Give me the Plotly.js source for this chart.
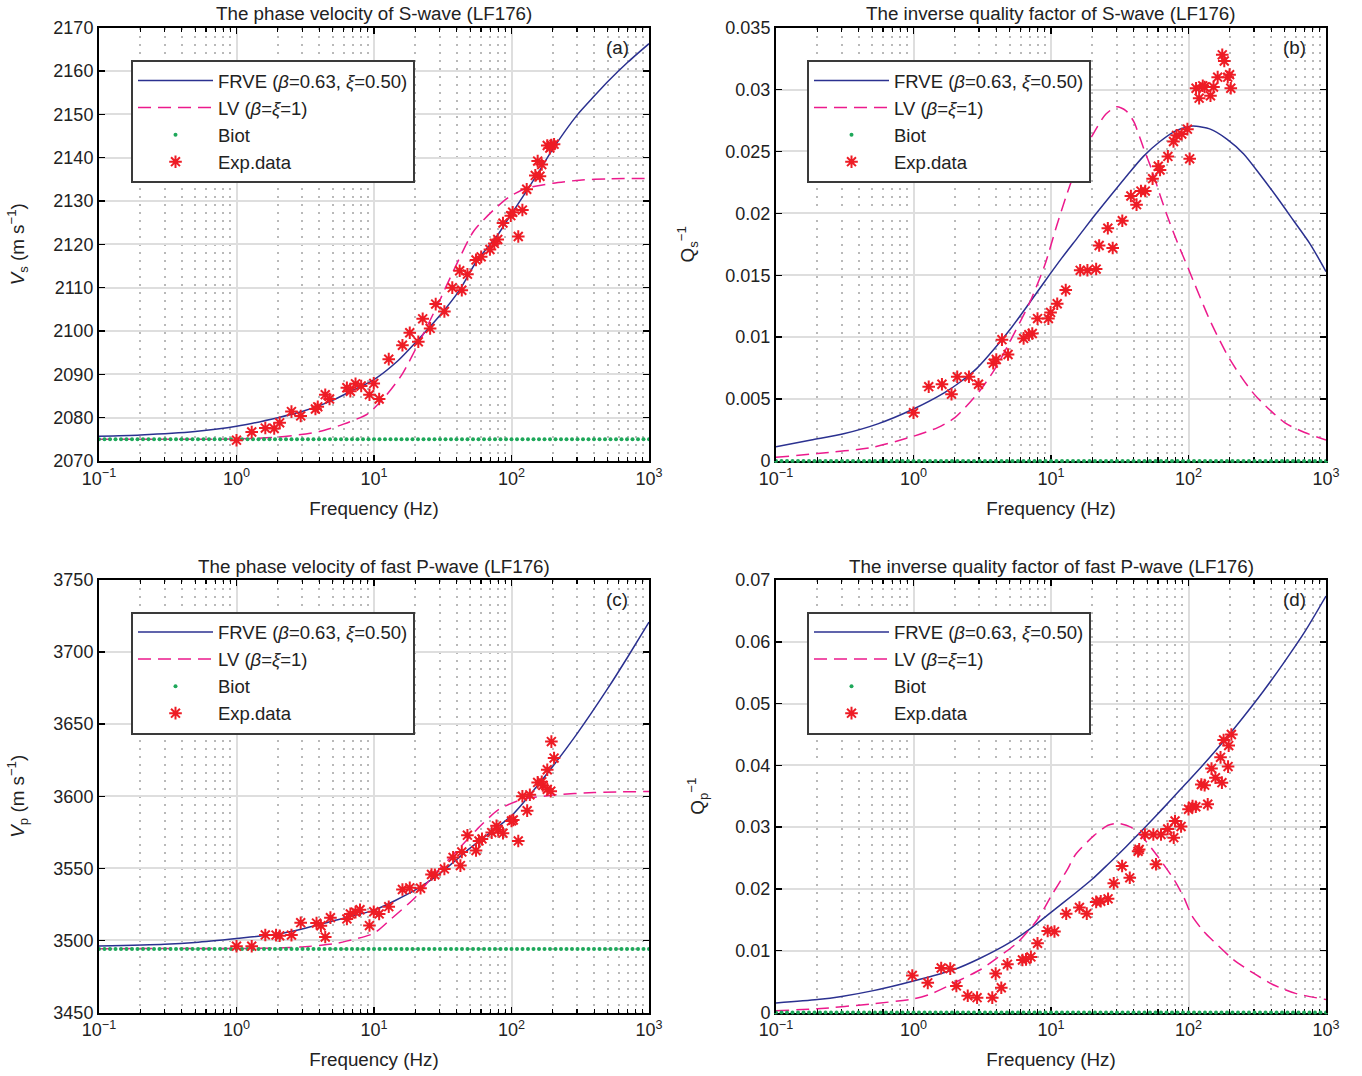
<!DOCTYPE html>
<html><head><meta charset="utf-8">
<script src="https://cdn.plot.ly/plotly-3.0.1.min.js"></script>
<style>html,body{margin:0;padding:0;background:#fff}#chart{width:1362px;height:1076px}</style>
</head><body><div id="chart"></div>
<script>
// ---------- axis ticks ----------
const xTickVals = [0.1, 1, 10, 100, 1000];
const xTickText = ['10<sup>−1</sup>', '10<sup>0</sup>', '10<sup>1</sup>', '10<sup>2</sup>', '10<sup>3</sup>'];
const xMinorVals = [0.2,0.3,0.4,0.5,0.6,0.7,0.8,0.9,2,3,4,5,6,7,8,9,20,30,40,50,60,70,80,90,200,300,400,500,600,700,800,900];
const vsTicks = [2070,2080,2090,2100,2110,2120,2130,2140,2150,2160,2170];
const qsTicks = [0,0.005,0.01,0.015,0.02,0.025,0.03,0.035];
const qsTickText = ['0','0.005','0.01','0.015','0.02','0.025','0.03','0.035'];
const vpTicks = [3450,3500,3550,3600,3650,3700,3750];
const qpTicks = [0,0.01,0.02,0.03,0.04,0.05,0.06,0.07];
const qpTickText = ['0','0.01','0.02','0.03','0.04','0.05','0.06','0.07'];

// ---------- Biot frequency grid (dots) ----------
const biotF = [0.1,0.10965,0.12023,0.13183,0.14454,0.15849,0.17378,0.19055,0.20893,0.22909,0.25119,0.27542,0.302,0.33113,0.36308,0.39811,0.43652,0.47863,0.52481,0.57544,0.63096,0.69183,0.75858,0.83176,0.91201,
1,1.0965,1.2023,1.3183,1.4454,1.5849,1.7378,1.9055,2.0893,2.2909,2.5119,2.7542,3.02,3.3113,3.6308,3.9811,4.3652,4.7863,5.2481,5.7544,6.3096,6.9183,7.5858,8.3176,9.1201,
10,10.965,12.023,13.183,14.454,15.849,17.378,19.055,20.893,22.909,25.119,27.542,30.2,33.113,36.308,39.811,43.652,47.863,52.481,57.544,63.096,69.183,75.858,83.176,91.201,
100,109.65,120.23,131.83,144.54,158.49,173.78,190.55,208.93,229.09,251.19,275.42,302,331.13,363.08,398.11,436.52,478.63,524.81,575.44,630.96,691.83,758.58,831.76,912.01,1000];
const vsBiotLevel = 2075;
const qsBiotLevel = 0;
const vpBiotLevel = 3494;
const qpBiotLevel = 0;

// ---------- (a) S-wave phase velocity ----------
const vsFrveF = [0.1,0.2,0.5,1,2,3,5,7,10,15,20,30,42,56,78,97,121,160,200,300,400,500,700,1000];
const vsFrve  = [2075.7,2076.0,2076.8,2078.0,2080.0,2081.4,2084.0,2086.3,2088.8,2093.2,2097.3,2103.5,2109.5,2116.2,2121.8,2126.4,2131.0,2137.0,2142.0,2149.8,2154.2,2157.5,2162.0,2166.3];
const vsLvF = [0.1,0.3,1,2,4,6,9,12,16,22,29,38,53,74,97,128,200,313,500,1000];
const vsLv  = [2075.0,2075.0,2075.1,2075.5,2076.8,2078.5,2080.9,2084.8,2090.0,2098.3,2106.0,2114.0,2123.0,2127.9,2131.0,2132.9,2134.1,2134.8,2135.1,2135.2];
const vsExpF = [1.0,1.29,1.62,1.88,2.06,2.51,2.93,3.75,3.9,4.42,4.75,6.35,6.73,7.34,8.07,9.27,9.96,10.9,12.8,16.1,18.2,21.0,22.6,25.6,28.1,32.5,37.1,43.5,42,47.8,55.2,60.2,69.7,75,79.4,86.7,98.8,102,120,112,129,149,161,155,166,182,195,204,190];
const vsExp  = [2074.8,2076.7,2077.6,2077.5,2078.8,2081.4,2080.4,2082.0,2082.5,2085.3,2084.3,2086.9,2086.1,2087.8,2087.3,2085.3,2087.9,2084.3,2093.5,2096.7,2099.6,2097.5,2102.8,2100.6,2106.2,2104.5,2110.0,2109.4,2113.9,2113.1,2116.4,2117.1,2118.8,2120.2,2121.1,2124.9,2126.6,2127.4,2127.9,2121.8,2132.7,2135.9,2135.7,2139.2,2138.4,2142.8,2142.9,2143.1,2142.2];

// ---------- (b) S-wave inverse quality factor ----------
const qsFrveF = [0.1,0.18,0.31,0.55,1,1.67,2.2,2.9,3.9,5.1,6.8,9,12,15.5,20,27,36,47,62,82,100,108,144,190,252,333,440,582,769,1000];
const qsFrve  = [0.00115,0.0017,0.0022,0.003,0.0042,0.0055,0.0064,0.0075,0.0091,0.0107,0.0126,0.0145,0.0164,0.018,0.0196,0.0214,0.0231,0.0246,0.0258,0.0267,0.027,0.02705,0.0268,0.026,0.0248,0.0231,0.0213,0.0194,0.0175,0.0153];
const qsLvF = [0.1,0.2,0.5,1,1.5,2,3,4,5,7,9,11,13,15,20,25,30,35,40,47,55,62,70,82,100,144,200,300,500,700,1000];
const qsLv  = [0.0003,0.0006,0.0011,0.002,0.0027,0.0035,0.0056,0.0076,0.0096,0.0128,0.0158,0.0190,0.0215,0.0234,0.0263,0.028,0.0286,0.0283,0.0274,0.0253,0.0233,0.0215,0.0198,0.0178,0.0155,0.0113,0.0082,0.0054,0.0031,0.0023,0.0017];
const qsExpF = [1.0,1.29,1.61,1.89,2.08,2.53,2.97,3.80,4.0,4.40,4.87,6.32,6.90,7.31,7.98,9.57,9.93,11.1,12.8,16.3,18.4,21.3,22.4,25.9,28.1,33.0,38.1,41.9,45.1,48.5,54.8,60.3,62.1,70.8,77.8,81.9,89.3,98.2,102,113.5,119.5,131,144.5,152,163,176,182,193,199,203,127];
const qsExp  = [0.0039,0.0060,0.0062,0.0054,0.0068,0.0068,0.0062,0.0079,0.0082,0.0098,0.0086,0.0099,0.0102,0.0103,0.0115,0.0115,0.0120,0.0127,0.0138,0.0154,0.0154,0.0155,0.0174,0.0188,0.0172,0.0194,0.0214,0.0207,0.0218,0.0218,0.0228,0.0238,0.0235,0.0246,0.0258,0.0263,0.0264,0.0268,0.0244,0.0301,0.0293,0.0302,0.0295,0.0302,0.0310,0.0328,0.0323,0.0310,0.0312,0.0301,0.0303];

// ---------- (c) fast P-wave phase velocity ----------
const vpFrveF = [0.1,0.3,0.5,1,2,3,5,10,20,30,50,100,150,200,300,500,700,1000];
const vpFrve  = [3496.2,3497.4,3498.6,3501.3,3504.4,3507.9,3513.5,3521.0,3535.0,3546.3,3564.0,3586.5,3605.9,3620.8,3643.4,3674.6,3696.6,3720.8];
const vpLvF = [0.1,1,2,3,5,6.3,10,13,20,27,40,56,80,115,200,400,1000];
const vpLv  = [3494.3,3494.4,3494.7,3495.5,3497.5,3499.5,3505.0,3514.0,3530.0,3545.0,3562.0,3577.0,3590.5,3597.3,3600.8,3602.6,3603.3];
const vpExpF = [1.0,1.29,1.62,1.94,2.06,2.51,2.93,3.82,4.11,4.42,4.82,6.35,6.73,7.34,7.91,9.27,9.96,10.9,12.8,16.1,18.2,21.8,26.2,27.7,32.5,37.6,42.5,43.5,47.8,55.2,58.0,61.0,71.8,77.8,80.0,86.7,100,103,112,120,130,136,155,169,182,193,182,195,204,166];
const vpExp  = [3496.0,3496.0,3503.8,3503.7,3503.2,3503.7,3512.3,3512.0,3510.2,3502.4,3515.8,3514.9,3518.4,3519.6,3521.3,3510.3,3519.9,3518.4,3523.4,3535.3,3536.5,3536.2,3545.7,3545.5,3549.6,3557.6,3551.9,3561.4,3573.0,3562.4,3569.0,3570.4,3574.8,3579.5,3576.7,3574.4,3582.9,3583.5,3569.0,3600.0,3590.0,3601.0,3609.6,3607.5,3604.8,3603.5,3618.4,3637.9,3626.5,3610.0];

// ---------- (d) fast P-wave inverse quality factor ----------
const qpFrveF = [0.1,0.2,0.3,0.5,1,2,3,5,7,10,15,20,26,35,47,65,90,128,180,250,350,500,700,1000];
const qpFrve  = [0.00155,0.0021,0.0026,0.0035,0.0051,0.0070,0.0087,0.0113,0.0135,0.0162,0.0193,0.0216,0.0240,0.0268,0.0297,0.0330,0.0364,0.0401,0.0439,0.0478,0.0520,0.0568,0.0616,0.0674];
const qpLvF = [0.1,0.2,0.5,1,1.34,2.2,3.1,4.1,5.7,8,10,13.2,15,20.7,26,31,38,45,60,79,93,105,128,151,211,295,413,600,1000];
const qpLv  = [0.0003,0.0006,0.0014,0.0022,0.003,0.0053,0.007,0.0089,0.0113,0.0151,0.0188,0.0232,0.0255,0.0287,0.0303,0.0306,0.030,0.0287,0.0252,0.0214,0.0185,0.0158,0.0132,0.0116,0.0086,0.0064,0.0045,0.0031,0.0021];
const qpExpF = [0.98,1.27,1.59,1.85,2.05,2.48,2.90,3.74,3.96,4.35,4.82,6.2,6.58,7.14,7.98,9.46,10.6,12.9,16.1,18.2,21.3,23,26,28.6,32.9,37.4,43,43.8,48.2,55.5,58,63.1,70.6,79.8,78.1,88.3,100,107,113,138,124,131,147,157,175,194,171,180,196,205];
const qpExp  = [0.0060,0.0048,0.0072,0.0071,0.0043,0.0027,0.0024,0.0024,0.0063,0.0040,0.0078,0.0085,0.0086,0.0090,0.0112,0.0132,0.0131,0.0160,0.0170,0.0160,0.0179,0.0180,0.0184,0.0209,0.0237,0.0218,0.0261,0.0264,0.0288,0.0288,0.0240,0.0288,0.0297,0.0310,0.0283,0.0301,0.0329,0.0334,0.0333,0.0337,0.0369,0.0368,0.0395,0.0380,0.0372,0.0398,0.0413,0.0441,0.0432,0.0450];

// ---------- styles ----------
const FONT = 'Liberation Sans, Arial, Helvetica, sans-serif';
const C_FRVE = '#2b3190', C_LV = '#ec1a8c', C_BIOT = '#1ea85a', C_EXP = '#ee1c25';
const nameFRVE = 'FRVE (<i>β</i>=0.63, <i>ξ</i>=0.50)';
const nameLV = 'LV (<i>β</i>=<i>ξ</i>=1)';

function panel(idx, frveF, frve, lvF, lv, biotLevel, expF, exp) {
  const s = idx === 1 ? '' : String(idx);
  const xa = 'x' + s, ya = 'y' + s, lg = 'legend' + s;
  return [
    {x: frveF, y: frve, xaxis: xa, yaxis: ya, legend: lg, name: nameFRVE, mode: 'lines', line: {color: C_FRVE, width: 1.5, shape: 'spline', smoothing: 0.7}},
    {x: lvF, y: lv, xaxis: xa, yaxis: ya, legend: lg, name: nameLV, mode: 'lines', line: {color: C_LV, width: 1.5, dash: '13px,7px', shape: 'spline', smoothing: 0.7}},
    {x: biotF, y: biotF.map(() => biotLevel), xaxis: xa, yaxis: ya, legend: lg, name: 'Biot', mode: 'markers', cliponaxis: false, marker: {color: C_BIOT, size: 4, symbol: 'circle'}},
    {x: expF, y: exp, xaxis: xa, yaxis: ya, legend: lg, name: 'Exp.data', mode: 'markers', cliponaxis: false, marker: {symbol: 'asterisk-open', size: 10.5, color: C_EXP, line: {color: C_EXP, width: 2}}}
  ];
}

const data = [].concat(
  panel(1, vsFrveF, vsFrve, vsLvF, vsLv, vsBiotLevel, vsExpF, vsExp),
  panel(2, qsFrveF, qsFrve, qsLvF, qsLv, qsBiotLevel, qsExpF, qsExp),
  panel(3, vpFrveF, vpFrve, vpLvF, vpLv, vpBiotLevel, vpExpF, vpExp),
  panel(4, qpFrveF, qpFrve, qpLvF, qpLv, qpBiotLevel, qpExpF, qpExp)
);

const W = 1362, H = 1076;
const leftX = [99 / W, 649 / W], rightX = [776 / W, 1326 / W];
const topY = [1 - 461 / H, 1 - 27.6 / H], botY = [1 - 1012.5 / H, 1 - 580 / H];

function xAxis(domain, anchor, below) {
  return {
    domain: domain, anchor: anchor, type: 'log', range: [-1, 3],
    tickmode: 'array', tickvals: xTickVals, ticktext: xTickText,
    ticks: 'inside', ticklen: 6, tickwidth: 1.5, tickcolor: '#000',
    showline: true, linecolor: '#000', linewidth: 2, mirror: 'allticks',
    layer: below ? 'below traces' : 'above traces',
    showgrid: true, gridcolor: '#dedede', gridwidth: 2, zeroline: false,
    tickfont: {size: 18, color: '#222', family: FONT},
    minor: {tickmode: 'array', tickvals: xMinorVals, ticks: 'inside', ticklen: 4, tickwidth: 1.2, tickcolor: '#000',
            showgrid: true, gridcolor: '#b9b9b9', griddash: '2px,6px', gridwidth: 2},
    title: {text: 'Frequency (Hz)', font: {size: 18.8, color: '#222', family: FONT}, standoff: 14}
  };
}
function yAxis(domain, anchor, range, tv, tt, title, standoff) {
  const ax = {
    domain: domain, anchor: anchor, range: range,
    tickmode: 'array', tickvals: tv,
    ticks: 'inside', ticklen: 6, tickwidth: 1.5, tickcolor: '#000',
    showline: true, linecolor: '#000', linewidth: 2, mirror: 'allticks',
    showgrid: true, gridcolor: '#dedede', gridwidth: 2, zeroline: false,
    tickfont: {size: 18, color: '#222', family: FONT},
    title: {text: title, font: {size: 18.8, color: '#222', family: FONT}, standoff: standoff}
  };
  if (tt) ax.ticktext = tt;
  return ax;
}
function legendAt(px, py) {
  return {x: px / W, y: 1 - py / H, xanchor: 'left', yanchor: 'top', bgcolor: '#fff',
          bordercolor: '#3a3a3a', borderwidth: 2, font: {size: 18.5, color: '#222', family: FONT},
          itemwidth: 75, tracegroupgap: 0, entrywidth: 212, entrywidthmode: 'pixels'};
}
function label(txt, xref, yref, xd, yd) {
  return {text: txt, xref: xref, yref: yref, x: xd, y: yd, showarrow: false, xanchor: 'center', yanchor: 'middle',
          font: {size: 18.8, color: '#222', family: FONT}};
}

const layout = {
  width: W, height: H, margin: {l: 0, r: 0, t: 0, b: 0},
  paper_bgcolor: '#fff', plot_bgcolor: '#fff',
  font: {family: FONT, size: 18, color: '#222'},
  showlegend: true,
  xaxis: xAxis(leftX, 'y', false), yaxis: yAxis(topY, 'x', [2070, 2170], vsTicks, null, '<i>V</i><sub>s</sub> (m s<sup>−1</sup>)', 24),
  xaxis2: xAxis(rightX, 'y2', true), yaxis2: yAxis(topY, 'x2', [0, 0.035], qsTicks, qsTickText, 'Q<sub>s</sub><sup>−1</sup>', 26),
  xaxis3: xAxis(leftX, 'y3', false), yaxis3: yAxis(botY, 'x3', [3450, 3750], vpTicks, null, '<i>V</i><sub>p</sub> (m s<sup>−1</sup>)', 24),
  xaxis4: xAxis(rightX, 'y4', true), yaxis4: yAxis(botY, 'x4', [0, 0.07], qpTicks, qpTickText, 'Q<sub>p</sub><sup>−1</sup>', 26),
  legend: legendAt(131, 60), legend2: legendAt(807, 60), legend3: legendAt(131, 611.5), legend4: legendAt(807, 611.5),
  annotations: [
    label('The phase velocity of S-wave (LF176)', 'x domain', 'paper', 0.5, 1 - 14 / H),
    label('The inverse quality factor of S-wave (LF176)', 'x2 domain', 'paper', 0.5, 1 - 14 / H),
    label('The phase velocity of fast P-wave (LF176)', 'x3 domain', 'paper', 0.5, 1 - 566 / H),
    label('The inverse quality factor of fast P-wave (LF176)', 'x4 domain', 'paper', 0.5, 1 - 566 / H),
    label('(a)', 'x domain', 'y domain', 0.942, 0.955),
    label('(b)', 'x2 domain', 'y2 domain', 0.942, 0.955),
    label('(c)', 'x3 domain', 'y3 domain', 0.942, 0.954),
    label('(d)', 'x4 domain', 'y4 domain', 0.942, 0.954)
  ]
};

Plotly.newPlot('chart', data, layout, {displayModeBar: false, staticPlot: true});
</script></body></html>
